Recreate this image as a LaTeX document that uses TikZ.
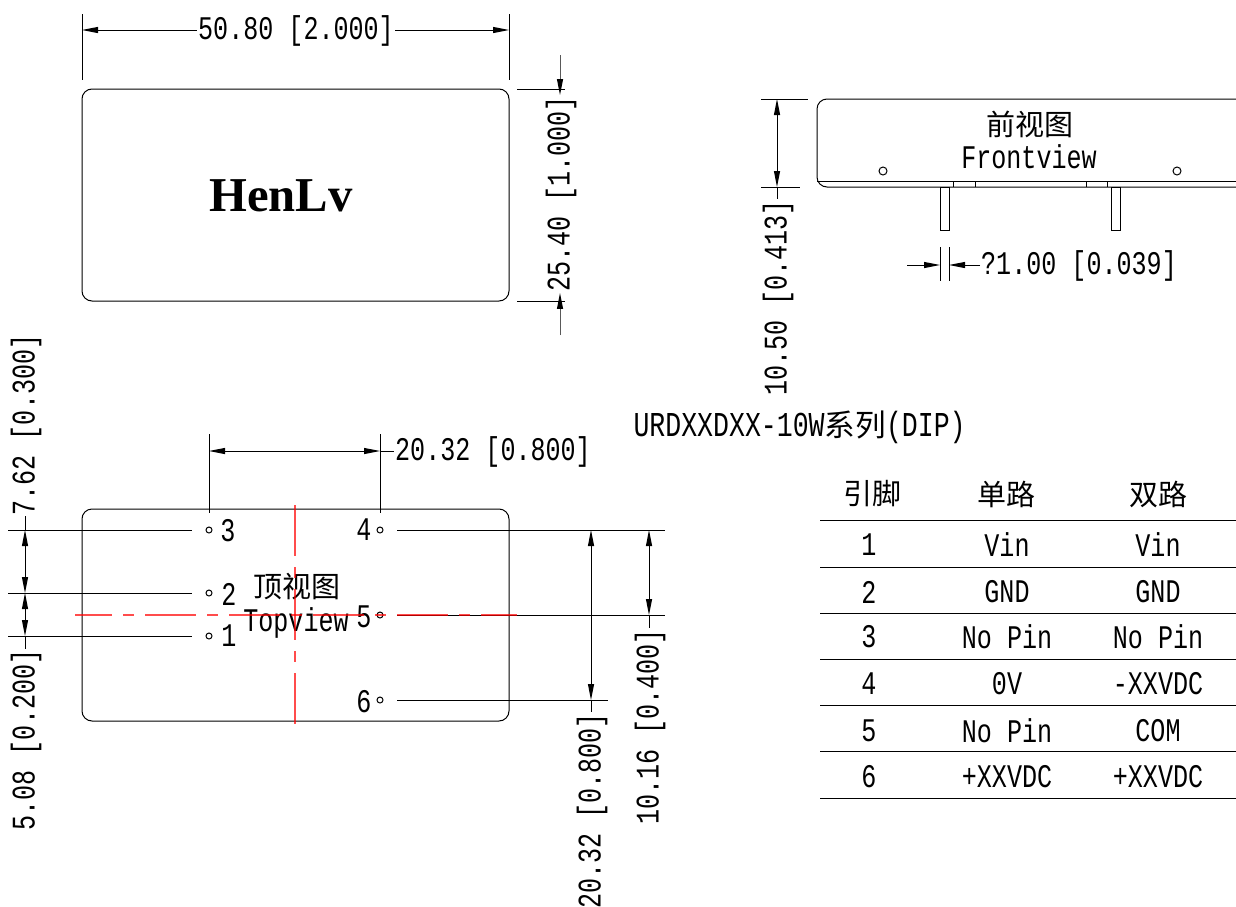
\documentclass[tikz,border=0pt]{standalone}
\usepackage{fontspec}
\setmainfont{Liberation Mono}[FakeStretch=0.76]
\newfontfamily\cjk{Noto Sans CJK SC}
\newfontfamily\logofont{Liberation Serif}
\usetikzlibrary{arrows.meta}
\tikzstyle{label} = [inner sep=0.5pt, font=\fontsize{24.75}{28}\selectfont]
\tikzstyle{dimlabel} = [label, text height=19pt, text depth=4.5pt]
\tikzstyle{vlabel} = [dimlabel, rotate=90]
\tikzstyle{cn} = [inner sep=0pt, font=\fontsize{21.75}{26}\selectfont\cjk]
\tikzstyle{hole} = [draw, circle, inner sep=0pt, minimum size=4.5pt]
\tikzstyle{bighole} = [draw, circle, inner sep=0pt, minimum size=6pt]
\tikzstyle{centerline} = [draw=red, opacity=0.7, line width=0.9pt, dash pattern=on 38.25pt off 8.25pt on 8.25pt off 8.25pt]

\begin{document}
\begin{tikzpicture}[
            x = 0.75pt, y = -0.75pt,
            > = {Triangle[length=12pt, width=4.5pt]}, % long thin heads
            line width = 0.75pt
        ]
        \useasboundingbox (0,0) rectangle (1236,907);

        % top outline
        \draw[rounded corners=7.5pt] (82,89) rectangle (509,301);
        \node[inner sep=0pt, font=\fontsize{36.5}{40}\selectfont\logofont\bfseries] (logo) at (281,196) {HenLv};

        \draw (82,14) -- (82,80);
        \draw (509,14) -- (509,80);
        \node[dimlabel] (width) at (296,30) {50.80 [2.000]};
        \draw[<-] (82,30) -- (width);
        \draw[<-] (509,30) -- (width);

        \draw (517,89) -- (565,89);
        \draw (517,301) -- (565,301);
        \node[vlabel] (height) at (560,194) {25.40 [1.000]};
        \draw[->] (560,55) -- (560,89) -- (height);
        \draw[->] (560,335) -- (560,301) -- (height);

        % front view
        \draw[rounded corners=7.5pt] (1236,99) -- (817,99) -- (817,187) -- (1236,187);
        \draw (817,181.5) -- (1236,181.5);
        \foreach \x in {953,975,1086,1107}
            \draw (\x,181.5) -- (\x,187);
        \draw (940,187) rectangle (949,230);
        \draw (1111,187) rectangle (1120,230);
        \node[bighole] (f1) at (883,171) {};
        \node[bighole] (f2) at (1177,171) {};
        \node[cn] (front) at (1030,124) {前视图};
        \node[label] (frontEn) at (1029,157) {Frontview};

        \draw (761,99) -- (808,99);
        \draw (761,187) -- (800,187);
        \node[vlabel] (thick) at (777,298) {10.50 [0.413]};
        \draw[<->] (777,99) -- (777,187);
        \draw (777,187) -- (thick);

        \draw (940,247) -- (940,281);
        \draw (949,247) -- (949,281);
        \node[dimlabel] (pindia) at (1079,265) {?1.00 [0.039]};
        \draw[->] (907,265) -- (940,265);
        \draw[->] (pindia) -- (949,265);

        \node[anchor=west, inner sep=0pt, font=\fontsize{26.2}{30}\selectfont] (title) at (633,427) {URDXXDXX-10W{\cjk\fontsize{23}{26}\selectfont 系列}(DIP)};

        % top view
        \draw[rounded corners=7.5pt] (82,509) rectangle (509,721);
        \node[hole] (p3) at (209,530) {};
        \node[hole] (p2) at (209,593) {};
        \node[hole] (p1) at (209,636) {};
        \node[hole] (p4) at (380,530) {};
        \node[hole] (p5) at (380,615) {};
        \node[hole] (p6) at (380,700) {};
        \node[label] (n3) at (228,531) {3};
        \node[label] (n2) at (229,594) {2};
        \node[label] (n1) at (229,636) {1};
        \node[label] (n4) at (364,530) {4};
        \node[label] (n5) at (364,617) {5};
        \node[label] (n6) at (364,702) {6};
        \node[cn] (top) at (297,587) {顶视图};
        \node[label] (topEn) at (296,623) {Topview};

        \draw (8,530) -- (192,530);
        \draw (8,593) -- (192,593);
        \draw (8,636) -- (192,636);
        \draw (397,530) -- (665,530);
        \draw (397,615) -- (665,615);
        \draw (397,700) -- (608,700);
        \draw (209,434) -- (209,513);
        \draw (380,434) -- (380,513);

        \draw[centerline, dash phase=10.5pt] (75,615) -- (517,615);
        \draw[centerline] (295,505) -- (295,729);

        \node[dimlabel] (pitchH) at (493,451) {20.32 [0.800]};
        \draw[<->] (209,451) -- (380,451);
        \draw (380,451) -- (pitchH);

        \node[vlabel] (dim762) at (25,425) {7.62 [0.300]};
        \node[vlabel] (dim508) at (25,740) {5.08 [0.200]};
        \draw[<->] (25,530) -- (25,593);
        \draw[<->] (25,593) -- (25,636);
        \draw (25,530) -- (dim762);
        \draw (25,636) -- (dim508);

        \node[vlabel] (dim2032) at (591,811) {20.32 [0.800]};
        \draw[<->] (591,530) -- (591,700);
        \draw (591,700) -- (dim2032);

        \node[vlabel] (dim1016) at (649,727) {10.16 [0.400]};
        \draw[<->] (649,530) -- (649,615);
        \draw (649,615) -- (dim1016);

        % pin table
        \node[cn] (headPin) at (872,494) {引脚};
        \node[cn] (headOne) at (1006,494) {单路};
        \node[cn] (headTwo) at (1158,494) {双路};
        \foreach \y in {520,567,613,659,705,751,798}
            \draw (820,\y) -- (1236,\y);
        \foreach \n/\one/\two/\y in {1/Vin/Vin/545, 2/GND/GND/592, 3/No Pin/No Pin/637,
                4/0V/-XXVDC/684, 5/No Pin/COM/731, 6/+XXVDC/+XXVDC/777} {
            \node[label] (pin\n) at (869,\y) {\n};
            \node[label] (one\n) at (1007,\y) {\one};
            \node[label] (two\n) at (1158,\y) {\two};
        }
    \end{tikzpicture}
\end{document}
